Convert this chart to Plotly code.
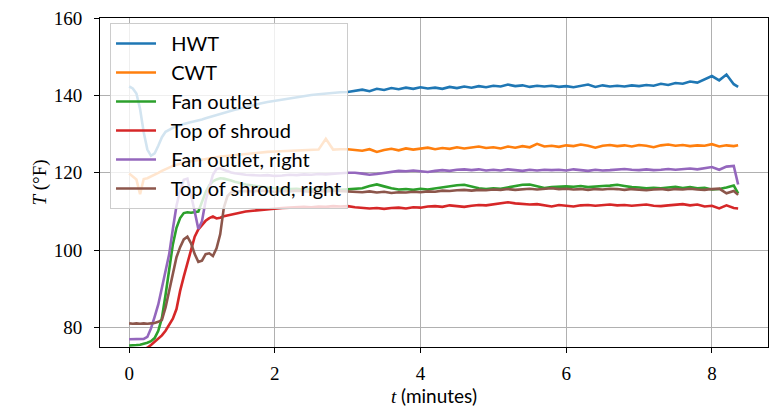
import plotly.graph_objects as go

# time in minutes (shared by all series)
t_min = [0.00, 0.05, 0.10, 0.15, 0.20, 0.25, 0.30, 0.35, 0.40, 0.45,
         0.50, 0.55, 0.60, 0.65, 0.70, 0.75, 0.80, 0.85, 0.90, 0.95,
         1.00, 1.05, 1.10, 1.15, 1.20, 1.25, 1.30, 1.35, 1.40, 1.45, 1.50,
         1.6, 1.7, 1.8, 1.9, 2.0, 2.1, 2.2, 2.3, 2.4, 2.5, 2.6, 2.7, 2.8, 2.9, 3.0,
         3.1, 3.2, 3.3, 3.4, 3.5, 3.6, 3.7, 3.8, 3.9, 4.0,
         4.1, 4.2, 4.3, 4.4, 4.5, 4.6, 4.7, 4.8, 4.9, 5.0,
         5.1, 5.2, 5.3, 5.4, 5.5, 5.6, 5.7, 5.8, 5.9, 6.0,
         6.1, 6.2, 6.3, 6.4, 6.5, 6.6, 6.7, 6.8, 6.9, 7.0,
         7.1, 7.2, 7.3, 7.4, 7.5, 7.6, 7.7, 7.8, 7.9, 8.0,
         8.1, 8.2, 8.3, 8.36]

hwt = [142.3, 141.8, 140.5, 136.5, 130.5, 126.0, 124.4, 125.0, 127.0, 129.2,
       130.6, 131.2, 131.6, 132.0, 132.4, 132.6, 132.9, 133.1, 133.3, 133.5,
       133.8, 134.1, 134.4, 134.7, 135.0, 135.3, 135.5, 135.8, 136.0, 136.3, 136.5,
       137.0, 137.4, 137.9, 138.3, 138.6, 139.0, 139.3, 139.6, 139.9, 140.1, 140.3, 140.5, 140.6, 140.8, 140.9,
       141.2, 141.5, 141.1, 141.7, 141.4, 141.9, 141.6, 142.0, 141.7, 142.1,
       141.8, 142.0, 141.7, 142.2, 141.9, 142.3, 142.0, 142.4, 142.1, 142.5,
       142.3, 142.8, 142.4, 142.6, 142.2, 142.5, 142.3, 142.5, 142.2, 142.4,
       142.1, 142.5, 142.8, 142.2, 142.6, 142.3, 142.5, 142.3, 142.6, 142.4,
       142.7, 142.5, 143.0, 142.7, 143.2, 143.0, 143.6, 143.3, 144.2, 145.0,
       143.9, 145.4, 142.9, 142.2]

cwt = [119.8, 119.0, 118.3, 114.5, 118.4, 118.6, 119.0, 119.5, 120.0, 120.5,
       121.0, 121.4, 121.8, 122.1, 122.4, 122.6, 122.8, 123.0, 123.1, 123.3,
       123.4, 123.6, 123.8, 123.9, 124.1, 124.2, 124.3, 124.4, 124.5, 124.6, 124.7,
       124.9, 125.1, 125.2, 125.4, 125.5, 125.6, 125.7, 125.8, 125.9, 125.9, 126.0, 128.8, 126.0, 126.1, 126.1,
       125.9, 125.7, 126.1, 125.4, 125.9, 126.2, 125.8, 126.3, 126.0, 126.2,
       126.5, 126.1, 126.4, 126.2, 126.6, 126.3, 126.5, 126.8, 126.4, 126.6,
       126.3, 126.8, 126.5, 126.9, 126.6, 127.5, 126.8, 127.0, 126.7, 127.1,
       126.9, 127.3, 127.0, 126.5, 127.0, 127.2, 126.9, 127.1, 126.8, 127.2,
       127.0, 126.6, 127.1, 127.3, 127.0, 127.2, 126.9, 127.1, 127.0, 127.4,
       126.8, 127.1, 126.9, 127.1]

fan_outlet = [75.4, 75.4, 75.5, 75.6, 75.8, 76.1, 76.5, 77.3, 79.2, 82.5,
              88.5, 95.5, 101.5, 105.8, 108.3, 109.6, 109.8, 109.7, 109.8, 110.0,
              112.5, 115.0, 116.8, 117.8, 118.3, 118.6, 118.5, 118.3, 118.0, 117.7, 117.4,
              117.0, 116.7, 116.4, 116.2, 116.0, 115.9, 115.8, 115.9, 115.7, 115.8, 115.6, 115.7, 115.8, 115.6, 115.7,
              115.8, 116.0, 116.6, 117.0, 116.5, 116.0, 115.7, 115.8, 115.6, 115.9,
              115.7, 116.0, 116.3, 116.5, 116.8, 116.9, 116.4, 116.0, 115.8, 116.0,
              115.9, 116.2, 116.5, 116.9, 117.0, 116.5, 116.1, 116.3, 116.4, 116.5,
              116.4, 116.6, 116.3, 116.5, 116.6, 116.7, 116.9, 116.6, 116.3, 116.2,
              116.0, 116.1, 116.0, 116.2, 116.4, 116.1, 116.3, 116.0, 116.1, 115.7,
              115.8, 116.2, 116.7, 114.7]

top_shroud = [74.0, 74.0, 74.1, 74.2, 74.4, 74.8, 75.5, 76.3, 77.0, 78.0,
              79.2, 80.7, 82.3, 84.8, 89.5, 93.2, 96.8, 100.4, 103.5, 105.4,
              106.5, 107.6, 108.3, 108.7, 108.2, 108.4, 108.8, 109.0, 109.3, 109.5, 109.7,
              110.0, 110.2, 110.4, 110.6, 110.8, 110.9, 111.0, 111.1, 111.2, 111.1, 111.3, 111.2, 111.4, 111.3, 111.4,
              111.1, 111.0, 110.8, 110.9, 110.7, 110.9, 111.0, 110.8, 111.1, 111.0,
              111.3, 111.4, 111.2, 111.6, 111.4, 111.2, 111.5, 111.7, 111.6, 111.9,
              112.2, 112.4, 112.1, 112.0, 111.8, 111.9, 111.5, 111.3, 111.7, 111.5,
              111.3, 111.6, 111.7, 111.5, 111.6, 111.8, 111.6, 111.7, 111.5, 111.6,
              111.8, 111.5, 111.4, 111.6, 111.7, 111.9, 111.6, 111.8, 111.3, 111.5,
              110.8, 111.6, 110.9, 110.8]

fan_outlet_right = [77.0, 77.0, 77.0, 77.0, 77.1, 77.6, 79.8, 82.8, 86.0, 90.3,
                    94.6, 99.0, 105.5, 111.5, 115.5, 118.2, 118.5, 114.5, 110.0, 105.5,
                    107.5, 112.8, 116.5, 119.5, 121.0, 121.2, 120.8, 120.4, 120.1, 119.9, 119.7,
                    119.5, 119.4, 119.3, 119.4, 119.2, 119.3, 119.5, 119.4, 119.6, 119.5, 119.7, 119.6, 119.8, 119.9, 120.0,
                    120.0, 119.8, 119.5, 119.7, 120.0, 120.2, 120.5, 120.4, 120.6, 120.4,
                    120.2, 120.5, 120.7, 120.5, 120.8, 120.9, 120.7, 120.9, 120.6, 120.8,
                    120.6, 120.9, 120.7, 120.5, 120.8, 120.6, 120.8, 120.7, 120.8, 120.6,
                    120.9, 120.7, 120.5, 120.8, 120.6, 120.7, 120.9, 121.0, 120.8, 120.7,
                    120.9, 120.7, 120.8, 121.0, 120.8, 120.9, 121.1, 120.9, 121.2, 121.5,
                    120.8, 121.6, 121.8, 117.0]

top_shroud_right = [81.1, 81.0, 81.1, 81.0, 81.1, 81.0, 81.1, 81.2, 81.5, 82.0,
                    85.2, 89.5, 94.0, 98.2, 100.8, 102.8, 103.5, 101.8, 99.0, 97.0,
                    97.3, 99.0, 99.2, 98.5, 100.5, 104.1, 111.0, 114.0, 114.9, 115.1, 115.2,
                    115.3, 115.2, 115.4, 115.3, 115.1, 115.3, 115.2, 115.4, 115.3, 115.1, 115.3, 115.2, 115.4, 115.3, 115.2,
                    115.2, 115.0, 115.2, 114.9, 115.1, 114.8, 115.0, 114.9, 115.1, 115.0,
                    115.2, 115.1, 115.4, 115.3, 115.5, 115.6, 115.4, 115.6, 115.5, 115.7,
                    115.6, 115.8, 115.6, 115.7, 115.9, 115.7, 115.8, 116.0, 115.8, 115.9,
                    115.7, 115.8, 115.6, 115.8, 115.7, 115.9, 115.8, 115.6, 115.8, 115.7,
                    115.5, 115.7, 115.8, 115.6, 115.8, 115.7, 115.9, 115.7, 115.6, 115.8,
                    115.9, 114.7, 115.3, 114.3]

series_names = ["HWT", "CWT", "Fan outlet", "Top of shroud",
                "Fan outlet, right", "Top of shroud, right"]
series_values = [hwt, cwt, fan_outlet, top_shroud, fan_outlet_right, top_shroud_right]
colors = ["#1f77b4", "#ff7f0e", "#2ca02c", "#d62728", "#9467bd", "#8c564b"]

x_ticks = [0, 2, 4, 6, 8]
y_ticks = [80, 100, 120, 140, 160]

SERIF = "Liberation Serif"
SANS = "Lato"

fig = go.Figure()
for i, (name, vals, col) in enumerate(zip(series_names, series_values, colors)):
    fig.add_trace(go.Scatter(x=t_min, y=vals, mode="lines",
                             name="\u00a0\u00a0" + name,
                             legendgroup=f"g{i}",
                             line=dict(color=col, width=2.6)))

axis_common = dict(showline=True, mirror=True, linecolor="black", linewidth=1,
                   ticks="outside", ticklen=5, tickwidth=1, tickcolor="black",
                   showgrid=True, gridcolor="#b0b0b0", gridwidth=1,
                   zeroline=False,
                   tickfont=dict(family=SERIF, size=19, color="black"))

fig.update_xaxes(range=[-0.40, 8.77], tickvals=x_ticks,
                 ticktext=[str(v) for v in x_ticks],
                 ticklabelstandoff=4,
                 title=dict(text=f"<i>t</i> <span style='font-family:{SANS}'>(minutes)</span>",
                            font=dict(family=SERIF, size=19, color="black"), standoff=1),
                 **axis_common)
fig.update_yaxes(range=[75, 160], tickvals=y_ticks,
                 ticktext=[str(v) for v in y_ticks],
                 ticklabelstandoff=8,
                 title=dict(text="<i>T</i> (°F)",
                            font=dict(family=SERIF, size=19, color="black"), standoff=2),
                 **axis_common)

fig.update_layout(
    width=777, height=409,
    margin=dict(l=100, r=8, t=15, b=62),
    plot_bgcolor="white", paper_bgcolor="white",
    legend=dict(x=0.015, y=0.985, xanchor="left", yanchor="top",
                bgcolor="rgba(255,255,255,0.8)", bordercolor="#cccccc", borderwidth=1,
                font=dict(family=SANS, size=20, color="black"),
                itemwidth=40,
                tracegroupgap=6, traceorder="normal"),
    showlegend=True,
)

fig.write_html("out.html", config={"displayModeBar": False},
               post_script="document.body.style.margin='0';document.body.style.overflow='hidden';")
